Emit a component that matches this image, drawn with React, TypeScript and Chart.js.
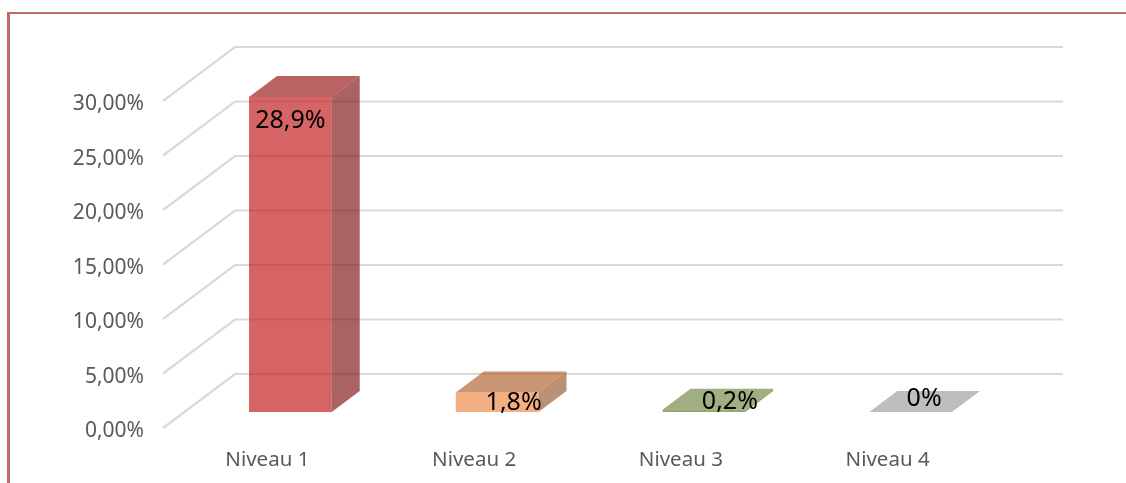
import React, { useEffect, useRef } from "react";
import { Chart, registerables } from "chart.js";

Chart.register(...registerables);

const categories = ["Niveau 1", "Niveau 2", "Niveau 3", "Niveau 4"];
const seriesValues = [28.9, 1.8, 0.2, 0];
const frontColors = ["rgba(198,34,34,0.7)", "rgba(238,141,76,0.7)", "rgba(105,134,48,0.7)", "rgba(155,155,155,0.7)"];
const topColors = ["rgba(155,34,31,0.7)", "rgba(181,105,55,0.7)", "rgba(119,141,76,0.7)", "rgba(162,162,162,0.7)"];
const sideColors = ["rgba(134,31,31,0.7)", "rgba(158,98,55,0.7)", "rgba(105,125,60,0.7)", "rgba(145,145,145,0.7)"];
const labelNudges = [[0, 24], [16.5, 10], [26, -8], [13.5, -13]];

const WALL_DX = 72;
const WALL_DY = 54;
const BAR_SHIFT_X = 23;
const BAR_SHIFT_Y = 16;
const BAR_DEPTH_X = 28;
const BAR_DEPTH_Y = 21;

const formatTick = (v: number) => v.toFixed(2).replace(".", ",") + "%";
const formatLabel = (v: number) => String(v).replace(".", ",") + "%";

const threeD = {
  id: "threeD",
  beforeDatasetsDraw(chart: any) {
    const { ctx, chartArea, scales } = chart;
    ctx.save();
    ctx.strokeStyle = "rgba(210,210,210,0.85)";
    ctx.lineWidth = 2.2;
    for (const t of scales.y.ticks) {
      const y = scales.y.getPixelForValue(t.value);
      ctx.beginPath();
      ctx.moveTo(chartArea.left - 1, y);
      ctx.lineTo(chartArea.left - 1 + WALL_DX, y - WALL_DY);
      ctx.lineTo(1063, y - WALL_DY);
      ctx.stroke();
    }
    ctx.restore();
  },
  beforeDatasetDraw(chart: any) {
    chart.ctx.save();
    chart.ctx.translate(BAR_SHIFT_X, -BAR_SHIFT_Y);
  },
  afterDatasetDraw(chart: any) {
    chart.ctx.restore();
  },
  afterDatasetsDraw(chart: any) {
    const { ctx } = chart;
    const bars = chart.getDatasetMeta(0).data;
    ctx.save();
    bars.forEach((bar: any, i: number) => {
      const l = bar.x - bar.width / 2 + BAR_SHIFT_X;
      const r = bar.x + bar.width / 2 + BAR_SHIFT_X;
      const top = bar.y - BAR_SHIFT_Y;
      const bottom = bar.base - BAR_SHIFT_Y;
      ctx.fillStyle = topColors[i];
      ctx.beginPath();
      ctx.moveTo(l, top);
      ctx.lineTo(l + BAR_DEPTH_X, top - BAR_DEPTH_Y);
      ctx.lineTo(r + BAR_DEPTH_X, top - BAR_DEPTH_Y);
      ctx.lineTo(r, top);
      ctx.closePath();
      ctx.fill();
      ctx.fillStyle = sideColors[i];
      ctx.beginPath();
      ctx.moveTo(r, top);
      ctx.lineTo(r + BAR_DEPTH_X, top - BAR_DEPTH_Y);
      ctx.lineTo(r + BAR_DEPTH_X, bottom - BAR_DEPTH_Y);
      ctx.lineTo(r, bottom);
      ctx.closePath();
      ctx.fill();
    });
    ctx.fillStyle = "#000";
    ctx.font = '25px "Noto Sans"';
    ctx.textAlign = "center";
    ctx.textBaseline = "middle";
    bars.forEach((bar: any, i: number) => {
      ctx.fillText(
        formatLabel(seriesValues[i]),
        bar.x + BAR_SHIFT_X + labelNudges[i][0],
        bar.y - BAR_SHIFT_Y + labelNudges[i][1]
      );
    });
    ctx.restore();
  },
};

export default function App() {
  const ref = useRef<HTMLCanvasElement>(null);
  useEffect(() => {
    document.body.style.margin = "0";
    const chart = new Chart(ref.current as HTMLCanvasElement, {
      type: "bar",
      data: {
        labels: categories,
        datasets: [
          {
            data: seriesValues,
            backgroundColor: frontColors,
            borderWidth: 0,
            barPercentage: 0.4,
            categoryPercentage: 1,
            clip: false,
          } as any,
        ],
      },
      options: {
        responsive: false,
        animation: false,
        layout: { padding: { top: 101, right: 135, left: 0, bottom: 0 } },
        plugins: { legend: { display: false }, tooltip: { enabled: false }, title: { display: false } },
        scales: {
          x: {
            grid: { display: false },
            border: { display: false },
            afterFit: (s: any) => {
              s.height = 55;
            },
            ticks: {
              color: "#595959",
              padding: 12,
              maxRotation: 0,
              font: { family: '"Noto Sans"', size: 20.5 },
            },
          },
          y: {
            min: 0,
            max: 30,
            grid: { display: false },
            border: { display: false },
            afterFit: (s: any) => {
              s.width = 164;
            },
            ticks: {
              stepSize: 5,
              color: "#595959",
              padding: 12,
              labelOffset: 3.5,
              font: { family: '"Noto Sans"', size: 21 },
              callback: (v: any) => formatTick(Number(v)),
            },
          },
        },
      },
      plugins: [threeD],
    } as any);
    return () => chart.destroy();
  }, []);
  return (
    <div style={{ position: "absolute", left: 0, top: 0, width: 1126, height: 483, overflow: "hidden", background: "#fff" }}>
      <div
        style={{
          position: "absolute",
          left: 7,
          top: 12,
          width: 1119,
          height: 471,
          boxSizing: "border-box",
          borderTop: "2px solid #BE6A6A",
          borderLeft: "3px solid #BE6A6A",
        }}
      />
      <canvas ref={ref} width={1126} height={483} style={{ position: "absolute", left: 0, top: 0, display: "block" }} />
    </div>
  );
}
